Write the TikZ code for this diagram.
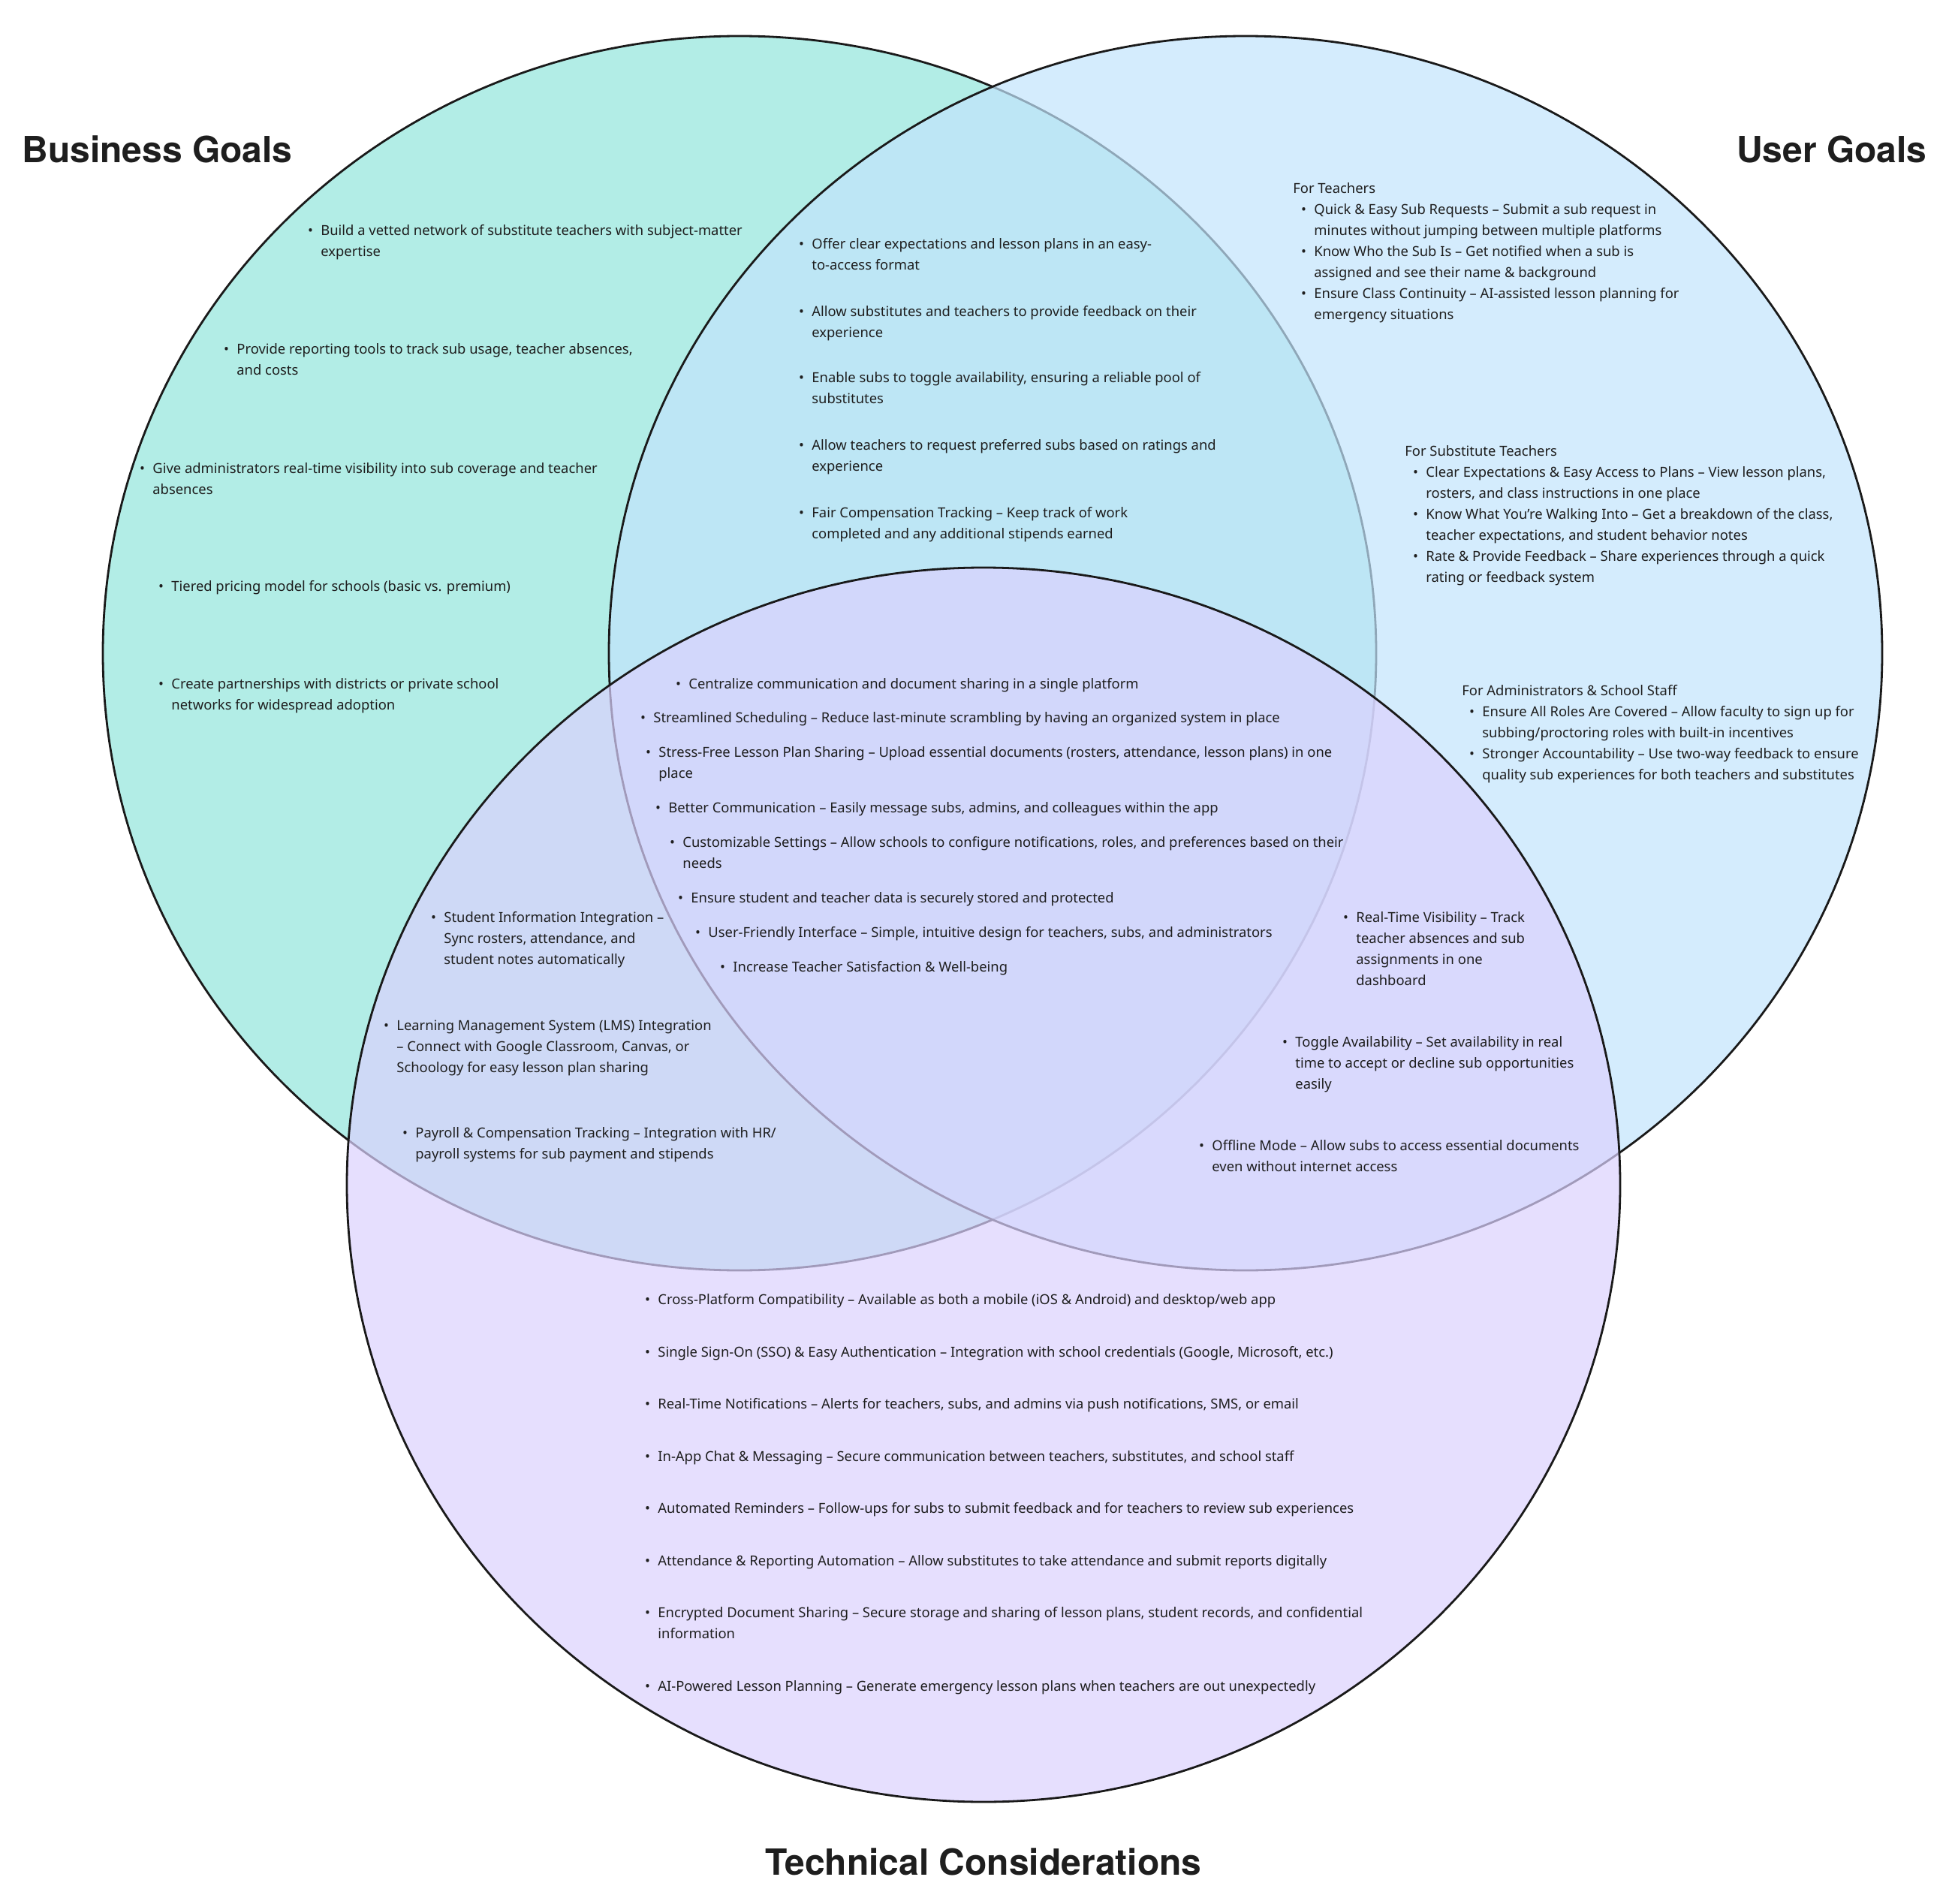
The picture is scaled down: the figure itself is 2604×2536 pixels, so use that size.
\documentclass[tikz,border=0pt]{standalone}
\usepackage{fontspec}
\setmainfont{Noto Sans}
\newfontfamily\headfont{TeX Gyre Heros}
\definecolor{ink}{HTML}{1E1E1E}
\definecolor{edge}{HTML}{1A1A1A}
\definecolor{gfill}{HTML}{B2EDE6}
\definecolor{bfill}{RGB}{194,228,252}
\definecolor{pfill}{RGB}{219,209,254}
\newcommand\bl[1]{\vtop{\baselineskip=14pt\lineskiplimit=-20pt\halign{##\hfil\cr#1\crcr}}}
\newcommand\bu{\llap{\textbullet\hspace{5.2pt}}}
\tikzset{
  itm/.style={anchor=mid west, inner sep=0pt, font=\fontsize{9.2pt}{14pt}\selectfont, text=ink},
  head/.style={inner sep=0pt, font=\headfont\fontsize{24pt}{28pt}\selectfont\bfseries, text=ink},
  ring/.style={draw=edge, line width=1.4pt}
}
\begin{document}
\begin{tikzpicture}[x=0.5pt,y=-0.5pt]
\useasboundingbox (0,0) rectangle (2604,2536);
% circles
\fill[gfill] (985,870) ellipse [x radius=424pt, y radius=411pt];
\draw[ring] (985,870) ellipse [x radius=424pt, y radius=411pt];
\fill[bfill, fill opacity=0.7] (1659,870) ellipse [x radius=424pt, y radius=411pt];
\draw[ring] (1659,870) ellipse [x radius=424pt, y radius=411pt];
\fill[pfill, fill opacity=0.7] (1310,1578) ellipse [x radius=424pt, y radius=411pt];
\draw[ring] (1310,1578) ellipse [x radius=424pt, y radius=411pt];
% headings
\node[head, anchor=base west] (hb) at (29,217) {Business Goals};
\node[head, anchor=base east] (hu) at (2567,217) {User Goals};
\node[head, anchor=base] (ht) at (1310,2497) {Technical Considerations};
% business goals
\node[itm] (bg1) at (427,308) {\bu\bl{Build a vetted network of substitute teachers with subject-matter\cr expertise}};
\node[itm] (bg2) at (315,466) {\bu\bl{Provide reporting tools to track sub usage, teacher absences,\cr and costs}};
\node[itm] (bg3) at (203,625) {\bu\bl{Give administrators real-time visibility into sub coverage and teacher\cr absences}};
\node[itm] (bg4) at (228,782) {\bu\bl{Tiered pricing model for schools (basic vs. premium)}};
\node[itm] (bg5) at (228,912) {\bu\bl{Create partnerships with districts or private school\cr networks for widespread adoption}};
% business & user
\node[itm] (bu1) at (1081,326) {\bu\bl{Offer clear expectations and lesson plans in an easy-\cr to-access format}};
\node[itm] (bu2) at (1081,416) {\bu\bl{Allow substitutes and teachers to provide feedback on their\cr experience}};
\node[itm] (bu3) at (1081,504) {\bu\bl{Enable subs to toggle availability, ensuring a reliable pool of\cr substitutes}};
\node[itm] (bu4) at (1081,594) {\bu\bl{Allow teachers to request preferred subs based on ratings and\cr experience}};
\node[itm] (bu5) at (1081,684) {\bu\bl{Fair Compensation Tracking – Keep track of work\cr completed and any additional stipends earned}};
% user goals
\node[itm] (ut0) at (1722,252) {\bl{For Teachers}};
\node[itm] (ut1) at (1750,280) {\bu\bl{Quick \& Easy Sub Requests – Submit a sub request in\cr minutes without jumping between multiple platforms}};
\node[itm] (ut2) at (1750,336) {\bu\bl{Know Who the Sub Is – Get notified when a sub is\cr assigned and see their name \& background}};
\node[itm] (ut3) at (1750,392) {\bu\bl{Ensure Class Continuity – AI-assisted lesson planning for\cr emergency situations}};
\node[itm] (us0) at (1871,602) {\bl{For Substitute Teachers}};
\node[itm] (us1) at (1899,630) {\bu\bl{Clear Expectations \& Easy Access to Plans – View lesson plans,\cr rosters, and class instructions in one place}};
\node[itm] (us2) at (1899,686) {\bu\bl{Know What You’re Walking Into – Get a breakdown of the class,\cr teacher expectations, and student behavior notes}};
\node[itm] (us3) at (1899,742) {\bu\bl{Rate \& Provide Feedback – Share experiences through a quick\cr rating or feedback system}};
\node[itm] (ua0) at (1947,921) {\bl{For Administrators \& School Staff}};
\node[itm] (ua1) at (1974,949) {\bu\bl{Ensure All Roles Are Covered – Allow faculty to sign up for\cr subbing/proctoring roles with built-in incentives}};
\node[itm] (ua2) at (1974,1005) {\bu\bl{Stronger Accountability – Use two-way feedback to ensure\cr quality sub experiences for both teachers and substitutes}};
% center
\node[itm] (c1) at (917,912) {\bu\bl{Centralize communication and document sharing in a single platform}};
\node[itm] (c2) at (870,957) {\bu\bl{Streamlined Scheduling – Reduce last-minute scrambling by having an organized system in place}};
\node[itm] (c3) at (877,1003) {\bu\bl{Stress-Free Lesson Plan Sharing – Upload essential documents (rosters, attendance, lesson plans) in one\cr place}};
\node[itm] (c4) at (890,1077) {\bu\bl{Better Communication – Easily message subs, admins, and colleagues within the app}};
\node[itm] (c5) at (909,1123) {\bu\bl{Customizable Settings – Allow schools to configure notifications, roles, and preferences based on their\cr needs}};
\node[itm] (c6) at (920,1197) {\bu\bl{Ensure student and teacher data is securely stored and protected}};
\node[itm] (c7) at (943,1243) {\bu\bl{User-Friendly Interface – Simple, intuitive design for teachers, subs, and administrators}};
\node[itm] (c8) at (976,1289) {\bu\bl{Increase Teacher Satisfaction \& Well-being}};
% business & technical
\node[itm] (bt1) at (591,1223) {\bu\bl{Student Information Integration –\cr Sync rosters, attendance, and\cr student notes automatically}};
\node[itm] (bt2) at (528,1367) {\bu\bl{Learning Management System (LMS) Integration\cr – Connect with Google Classroom, Canvas, or\cr Schoology for easy lesson plan sharing}};
\node[itm] (bt3) at (553,1510) {\bu\bl{Payroll \& Compensation Tracking – Integration with HR/\cr payroll systems for sub payment and stipends}};
% user & technical
\node[itm] (uq1) at (1806,1223) {\bu\bl{Real-Time Visibility – Track\cr teacher absences and sub\cr assignments in one\cr dashboard}};
\node[itm] (uq2) at (1725,1389) {\bu\bl{Toggle Availability – Set availability in real\cr time to accept or decline sub opportunities\cr easily}};
\node[itm] (uq3) at (1614,1527) {\bu\bl{Offline Mode – Allow subs to access essential documents\cr even without internet access}};
% technical
\node[itm] (t1) at (876,1732) {\bu\bl{Cross-Platform Compatibility – Available as both a mobile (iOS \& Android) and desktop/web app}};
\node[itm] (t2) at (876,1802) {\bu\bl{Single Sign-On (SSO) \& Easy Authentication – Integration with school credentials (Google, Microsoft, etc.)}};
\node[itm] (t3) at (876,1871) {\bu\bl{Real-Time Notifications – Alerts for teachers, subs, and admins via push notifications, SMS, or email}};
\node[itm] (t4) at (876,1941) {\bu\bl{In-App Chat \& Messaging – Secure communication between teachers, substitutes, and school staff}};
\node[itm] (t5) at (876,2010) {\bu\bl{Automated Reminders – Follow-ups for subs to submit feedback and for teachers to review sub experiences}};
\node[itm] (t6) at (876,2080) {\bu\bl{Attendance \& Reporting Automation – Allow substitutes to take attendance and submit reports digitally}};
\node[itm] (t7) at (876,2149) {\bu\bl{Encrypted Document Sharing – Secure storage and sharing of lesson plans, student records, and confidential\cr information}};
\node[itm] (t8) at (876,2247) {\bu\bl{AI-Powered Lesson Planning – Generate emergency lesson plans when teachers are out unexpectedly}};
\end{tikzpicture}
\end{document}
